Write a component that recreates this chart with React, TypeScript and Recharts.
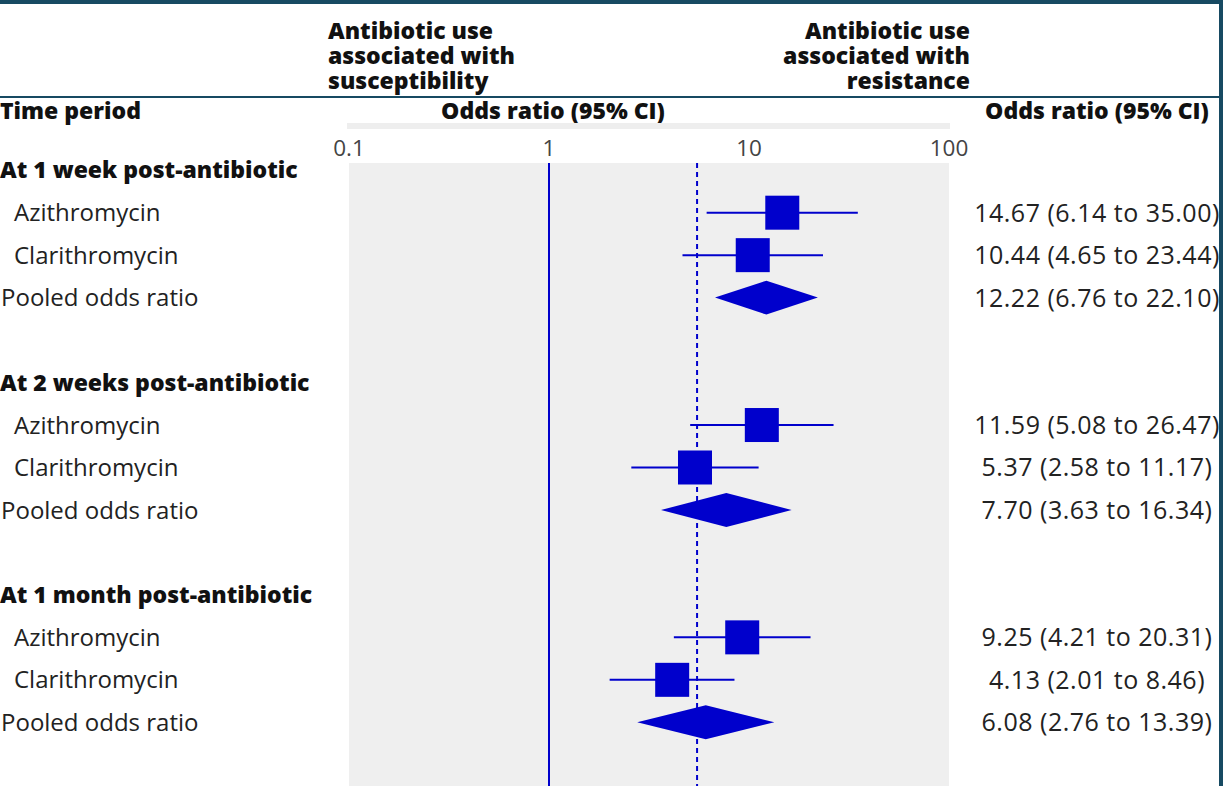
import React from "react";
import {
  ScatterChart, Scatter, XAxis, YAxis, CartesianGrid,
  ReferenceLine, ReferenceArea,
} from "recharts";

const periods = ["At 1 week post-antibiotic", "At 2 weeks post-antibiotic", "At 1 month post-antibiotic"];
const drugs = ["Azithromycin", "Clarithromycin"];
const drugOR = [[14.67, 10.44], [11.59, 5.37], [9.25, 4.13]];
const drugLow = [[6.14, 4.65], [5.08, 2.58], [4.21, 2.01]];
const drugHigh = [[35.0, 23.44], [26.47, 11.17], [20.31, 8.46]];
const pooledOR = [12.22, 7.7, 6.08];
const pooledLow = [6.76, 3.63, 2.76];
const pooledHigh = [22.1, 16.34, 13.39];
const xTicks = [0.1, 1, 10, 100];
const nullValue = 1;
const overallOR = 5.5;

const BLUE = "#0000cc";
const FRAME = "#174a62";
const BOLD = "'Open Sans', 'Noto Sans', sans-serif";
const REG = "'Open Sans', 'Noto Sans', sans-serif";

type Row = { row: number; label: string; kind: "header" | "drug" | "pooled"; or?: number; lo?: number; hi?: number };

const rows: Row[] = periods.flatMap((p, i) => [
  { row: i * 5, label: p, kind: "header" as const },
  ...drugs.map((d, j) => ({
    row: i * 5 + 1 + j, label: d, kind: "drug" as const,
    or: drugOR[i][j], lo: drugLow[i][j], hi: drugHigh[i][j],
  })),
  {
    row: i * 5 + 3, label: "Pooled odds ratio", kind: "pooled" as const,
    or: pooledOR[i], lo: pooledLow[i], hi: pooledHigh[i],
  },
]);

const drugRows = rows.filter(r => r.kind === "drug");
const pooledRows = rows.filter(r => r.kind === "pooled");
const points = drugRows.map(r => ({ x: r.or, y: r.row }));
const rowTicks = rows.map(r => r.row);

const fmt = (v: number) => v.toFixed(2);

// left label + right-hand OR text for each row
const RowTick = (props: any) => {
  const r = rows.find(q => q.row === props.payload.value);
  if (!r) return null;
  const header = r.kind === "header";
  return (
    <g>
      <text
        x={r.kind === "drug" ? 14 : header ? 0 : 1}
        y={props.y}
        dy="0.36em"
        fontFamily={header ? BOLD : REG}
        fontWeight={header ? 800 : 400}
        fontSize={header ? 23 : 24}
        fill={header ? "#111" : "#222"}
      >
        {r.label}
      </text>
      {!header && (
        <text x={1097} y={props.y} dy="0.36em" textAnchor="middle" fontFamily={REG} fontSize={25} letterSpacing={0.5} fill="#222">
          {`${fmt(r.or!)} (${fmt(r.lo!)} to ${fmt(r.hi!)})`}
        </text>
      )}
    </g>
  );
};

const Diamond = (p: any) => {
  const { x, y, width, height } = p;
  const pts = `${x},${y + height / 2} ${x + width / 2},${y} ${x + width},${y + height / 2} ${x + width / 2},${y + height}`;
  return <polygon points={pts} fill={BLUE} />;
};

const Square = (p: any) => (
  <rect x={p.cx - 17} y={p.cy - 17} width={34} height={34} fill={BLUE} />
);

const headStyle: React.CSSProperties = {
  position: "absolute", fontFamily: BOLD, fontWeight: 800, fontSize: 23, lineHeight: "25px",
  color: "#111", whiteSpace: "pre",
};

export default function App() {
  return (
    <div style={{ position: "absolute", left: 0, top: 0, width: 1223, height: 786, background: "#fff", overflow: "hidden" }}>
      <div style={{ position: "absolute", left: 0, top: 0, width: 1223, height: 4, background: FRAME }} />
      <div style={{ position: "absolute", left: 1219, top: 0, width: 4, height: 786, background: FRAME, zIndex: 2 }} />
      <div style={{ position: "absolute", left: 0, top: 96, width: 1219, height: 2, background: FRAME }} />
      <div style={{ ...headStyle, left: 328, top: 18 }}>{"Antibiotic use\nassociated with\nsusceptibility"}</div>
      <div style={{ ...headStyle, right: 253, top: 18, textAlign: "right" }}>{"Antibiotic use\nassociated with\nresistance"}</div>
      <div style={{ ...headStyle, left: 0, top: 98 }}>Time period</div>
      <div style={{ ...headStyle, left: 403, width: 300, top: 98, textAlign: "center" }}>Odds ratio (95% CI)</div>
      <div style={{ ...headStyle, left: 947, width: 300, top: 98, textAlign: "center" }}>Odds ratio (95% CI)</div>
      <div style={{ position: "absolute", left: 347, top: 123, width: 603, height: 6, background: "#eeeeee" }} />

      <div style={{ position: "absolute", left: 0, top: 0 }}>
        <ScatterChart width={1223} height={786} margin={{ top: 133, right: 274, bottom: 0, left: 0 }}>
          <CartesianGrid horizontal={false} vertical={false} fill="#efefef" />
          <XAxis
            dataKey="x" type="number" scale="log" domain={[0.1, 100]} ticks={xTicks}
            orientation="top" height={30} axisLine={false} tickLine={false} tickSize={0} tickMargin={7}
            allowDataOverflow tickFormatter={(v: number) => String(v)}
            tick={{ fill: "#444", fontSize: 22.5, fontFamily: REG }}
          />
          <YAxis
            dataKey="y" type="number" domain={[-0.17, 14.5]} reversed ticks={rowTicks}
            width={349} axisLine={false} tickLine={false} tick={<RowTick />} interval={0}
          />
          <ReferenceLine x={nullValue} stroke={BLUE} strokeWidth={2} />
          <ReferenceLine x={overallOR} stroke={BLUE} strokeWidth={2} strokeDasharray="5 4" />
          {drugRows.map(r => (
            <ReferenceLine
              key={`ci${r.row}`}
              segment={[{ x: r.lo, y: r.row }, { x: r.hi, y: r.row }]}
              stroke={BLUE} strokeWidth={2}
            />
          ))}
          {pooledRows.map(r => (
            <ReferenceArea
              key={`d${r.row}`}
              x1={r.lo} x2={r.hi} y1={r.row - 0.4} y2={r.row + 0.4}
              shape={<Diamond />}
            />
          ))}
          <Scatter data={points} shape={<Square />} isAnimationActive={false} />
        </ScatterChart>
      </div>
    </div>
  );
}
